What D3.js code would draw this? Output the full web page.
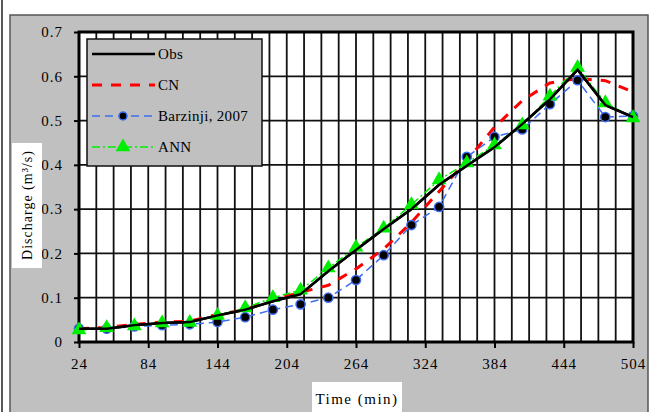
<!DOCTYPE html>
<html>
<head>
<meta charset="utf-8">
<script src="https://cdn.jsdelivr.net/npm/d3@7"></script>
<style>
  body { margin:0; background:#fff; }
  svg text { font-family: "Liberation Serif", "Times New Roman", serif; fill:#000; }
</style>
</head>
<body>
<div class="canvas"></div>
<script>
//------------------------data
const times = [24, 48, 72, 96, 120, 144, 168, 192, 216, 240, 264, 288, 312, 336, 360, 384, 408, 432, 456, 480, 504];
const obs = [0.030, 0.030, 0.038, 0.043, 0.045, 0.060, 0.073, 0.092, 0.108, 0.160, 0.208, 0.255, 0.300, 0.355, 0.398, 0.440, 0.492, 0.548, 0.615, 0.535, 0.508];
const cn = [0.030, 0.033, 0.040, 0.045, 0.047, 0.062, 0.073, 0.095, 0.112, 0.128, 0.165, 0.210, 0.270, 0.340, 0.410, 0.485, 0.545, 0.585, 0.595, 0.590, 0.565];
const barzinji = [0.030, 0.030, 0.035, 0.038, 0.040, 0.045, 0.056, 0.073, 0.085, 0.100, 0.140, 0.196, 0.264, 0.305, 0.418, 0.463, 0.480, 0.537, 0.591, 0.508, 0.510];
const ann = [0.027, 0.032, 0.036, 0.043, 0.044, 0.060, 0.077, 0.100, 0.117, 0.167, 0.214, 0.257, 0.310, 0.366, 0.404, 0.445, 0.490, 0.555, 0.620, 0.540, 0.506];
const xTicks = [24, 84, 144, 204, 264, 324, 384, 444, 504];
const yTicks = [0, 0.1, 0.2, 0.3, 0.4, 0.5, 0.6, 0.7];
const seriesNames = ['Obs', 'CN', 'Barzinji, 2007', 'ANN'];

//------------------------dimensions
const W = 651, H = 412;
const plot = { left:79, right:633, top:32, bottom:342 };

const svg = d3.select('.canvas')
.append('svg')
.attr('width', W)
.attr('height', H);

// outer frame: thin line at the left edge, gray chart area
svg.append('line')
.attr('x1', 2).attr('x2', 2).attr('y1', 0).attr('y2', H)
.attr('stroke', '#222').attr('stroke-width', 1.5);

svg.append('rect')
.attr('x', 10).attr('y', 15)
.attr('width', 638).attr('height', H)
.attr('fill', '#c0c0c0')
.attr('stroke', '#555').attr('stroke-width', 1.5);

//------------------------scales
const x = d3.scaleLinear().domain([24, 504]).range([plot.left, plot.right]);
const y = d3.scaleLinear().domain([0, 0.7]).range([plot.bottom, plot.top]);

// plot area
svg.append('rect')
.attr('x', plot.left).attr('y', plot.top)
.attr('width', plot.right - plot.left).attr('height', plot.bottom - plot.top)
.attr('fill', '#fff');

// gridlines: vertical every 15 min, horizontal every 0.1
const grid = svg.append('g').attr('class', 'grid');
grid.selectAll('line.v')
.data(d3.range(24 + 15, 504, 15))
.join('line')
.attr('class', 'v')
.attr('x1', d => x(d)).attr('x2', d => x(d))
.attr('y1', plot.top).attr('y2', plot.bottom)
.attr('stroke', '#111').attr('stroke-width', 1.8);

grid.selectAll('line.h')
.data(yTicks.slice(1, -1))
.join('line')
.attr('class', 'h')
.attr('x1', plot.left).attr('x2', plot.right)
.attr('y1', d => y(d)).attr('y2', d => y(d))
.attr('stroke', '#111').attr('stroke-width', 1.8);

//------------------------axes
const xAxis = svg.append('g')
.attr('transform', `translate(0, ${plot.bottom})`)
.call(d3.axisBottom(x).tickValues(xTicks).tickSize(6).tickPadding(10).tickFormat(d3.format('d')));

const yAxis = svg.append('g')
.attr('transform', `translate(${plot.left}, 0)`)
.call(d3.axisLeft(y).tickValues(yTicks).tickSize(5).tickPadding(11).tickFormat(d => d === 0 ? '0' : d3.format('.1f')(d)));

[xAxis, yAxis].forEach(a => {
    a.select('.domain').remove();
    a.selectAll('line').attr('stroke', '#000').attr('stroke-width', 2);
    a.selectAll('text')
    .style('font-family', '"Liberation Serif", serif')
    .style('font-size', '15px')
    .style('letter-spacing', '1px')
    .attr('fill', '#000');
});

// plot border
svg.append('rect')
.attr('x', plot.left).attr('y', plot.top)
.attr('width', plot.right - plot.left).attr('height', plot.bottom - plot.top)
.attr('fill', 'none')
.attr('stroke', '#000').attr('stroke-width', 3);

//------------------------series lines
const line = d3.line()
.x((d, i) => x(times[i]))
.y(d => y(d));

const styles = {
    'Obs': { data: obs, stroke: '#000', width: 2.6, dash: null },
    'CN': { data: cn, stroke: '#ff0000', width: 3, dash: '10,9' },
    'Barzinji, 2007': { data: barzinji, stroke: '#3d6df0', width: 1.5, dash: '8,5' },
    'ANN': { data: ann, stroke: '#00ee00', width: 1.5, dash: '8,3,2,3' }
};

const triangle = d3.symbol().type(d3.symbolTriangle).size(95);

const series = svg.append('g').attr('class', 'series');

['Barzinji, 2007', 'CN', 'ANN', 'Obs'].forEach(name => {
    const s = styles[name];
    series.append('path')
    .attr('d', line(s.data))
    .attr('fill', 'none')
    .attr('stroke', s.stroke)
    .attr('stroke-width', s.width)
    .attr('stroke-dasharray', s.dash);
});

// markers
series.selectAll('circle')
.data(barzinji)
.join('circle')
.attr('cx', (d, i) => x(times[i]))
.attr('cy', d => y(d))
.attr('r', 4.6)
.attr('fill', '#000')
.attr('stroke', '#3d6df0')
.attr('stroke-width', 1.5);

series.selectAll('path.tri')
.data(ann)
.join('path')
.attr('class', 'tri')
.attr('d', triangle)
.attr('transform', (d, i) => `translate(${x(times[i])}, ${y(d)})`)
.attr('fill', '#00ee00');

// draw obs on top again so it reads as in the picture
series.append('path')
.attr('d', line(obs))
.attr('fill', 'none')
.attr('stroke', '#000')
.attr('stroke-width', 2.4);

//------------------------legend
const legendGroup = svg.append('g')
.attr('transform', 'translate(87, 39)');

legendGroup.append('rect')
.attr('width', 175).attr('height', 127)
.attr('fill', '#c0c0c0')
.attr('stroke', '#111').attr('stroke-width', 1.5);

const rows = legendGroup.selectAll('g.row')
.data(seriesNames)
.join('g')
.attr('class', 'row')
.attr('transform', (d, i) => `translate(0, ${15 + i * 31})`);

rows.append('line')
.attr('x1', 5).attr('x2', 68)
.attr('y1', 0).attr('y2', 0)
.attr('stroke', d => styles[d].stroke)
.attr('stroke-width', d => styles[d].width)
.attr('stroke-dasharray', d => styles[d].dash);

rows.filter(d => d === 'Barzinji, 2007')
.append('circle')
.attr('cx', 36).attr('cy', 0).attr('r', 4)
.attr('fill', '#000').attr('stroke', '#3d6df0').attr('stroke-width', 1.5);

rows.filter(d => d === 'ANN')
.append('path')
.attr('d', triangle)
.attr('transform', 'translate(36, 0)')
.attr('fill', '#00ee00');

rows.append('text')
.attr('x', 71).attr('y', 5)
.style('font-size', '15px')
.style('letter-spacing', '0.3px')
.text(d => d);

//------------------------axis titles with white boxes
svg.append('rect')
.attr('x', 12).attr('y', 143).attr('width', 30).attr('height', 125)
.attr('fill', '#fff');

svg.append('text')
.attr('transform', 'translate(32, 205) rotate(-90)')
.attr('text-anchor', 'middle')
.style('font-size', '14px')
.style('letter-spacing', '1px')
.text('Discharge (m³/s)');

svg.append('rect')
.attr('x', 312).attr('y', 382).attr('width', 90).attr('height', 32)
.attr('fill', '#fff');

svg.append('text')
.attr('x', 357).attr('y', 404)
.attr('text-anchor', 'middle')
.style('font-size', '15px')
.style('letter-spacing', '1.5px')
.text('Time (min)');
</script>
</body>
</html>
